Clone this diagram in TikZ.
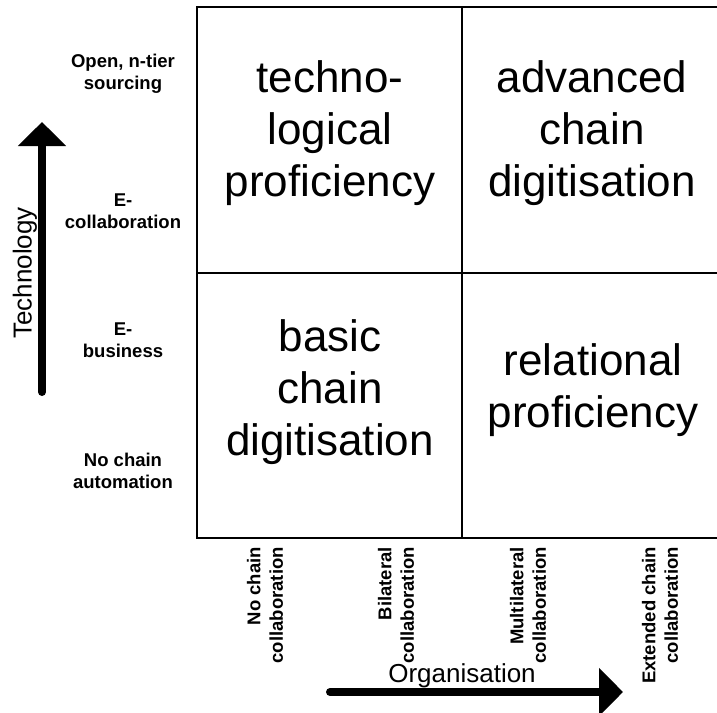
\documentclass[tikz,border=0pt]{standalone}
\usepackage{fontspec}
\setmainfont{Liberation Sans}
\usetikzlibrary{arrows.meta}

\begin{document}
\begin{tikzpicture}[x=1pt,y=-1pt,
    techlevel/.style={font=\fontsize{18.5}{22.5}\selectfont\bfseries, align=center},
    orglevel/.style={font=\fontsize{18.5}{22.5}\selectfont\bfseries, align=right, rotate=90, anchor=east, inner sep=0pt},
    quadrant/.style={font=\fontsize{44}{52}\selectfont, align=center},
    axislabel/.style={font=\fontsize{26}{30}\selectfont},
    axisarrow/.style={line width=8pt, line cap=round, -{Triangle[width=47pt,length=24pt]}}]
    \useasboundingbox (0,0) rectangle (717,712);

    % the 2x2 matrix
    \draw[line width=2pt] (197,7) rectangle (727,538);
    \draw[line width=2pt] (462,7) -- (462,538);
    \draw[line width=2pt] (197,272.5) -- (727,272.5);

    \node[quadrant] (techprof) at (330,133) {techno-\\logical\\proficiency};
    \node[quadrant] (advchain) at (592,133) {advanced\\chain\\digitisation};
    \node[quadrant] (basicchain) at (330,392) {basic\\chain\\digitisation};
    \node[quadrant] (relprof) at (593,390) {relational\\proficiency};

    % technology axis
    \node[techlevel] (lvlopen) at (123,74) {Open, n-tier\\sourcing};
    \node[techlevel] (lvlecollab) at (123,211) {E-\\collaboration};
    \node[techlevel] (lvlebus) at (123,340) {E-\\business};
    \node[techlevel] (lvlnoauto) at (123,471) {No chain\\automation};

    \coordinate (techfrom) at (42,392);
    \coordinate (techto) at (42,122);
    \draw[axisarrow] (techfrom) -- (techto);
    \node[axislabel, rotate=90] (techlabel) at (25,273) {Technology};

    % organisation axis
    \node[orglevel] (lvlnocollab) at (265,547) {No chain\\collaboration};
    \node[orglevel] (lvlbilat) at (396,547) {Bilateral\\collaboration};
    \node[orglevel] (lvlmulti) at (528,547) {Multilateral\\collaboration};
    \node[orglevel] (lvlext) at (660,547) {Extended chain\\collaboration};

    \coordinate (orgfrom) at (330,692);
    \coordinate (orgto) at (623,692);
    \draw[axisarrow] (orgfrom) -- (orgto);
    \node[axislabel, anchor=base] (orglabel) at (462,682) {Organisation};
\end{tikzpicture}
\end{document}
